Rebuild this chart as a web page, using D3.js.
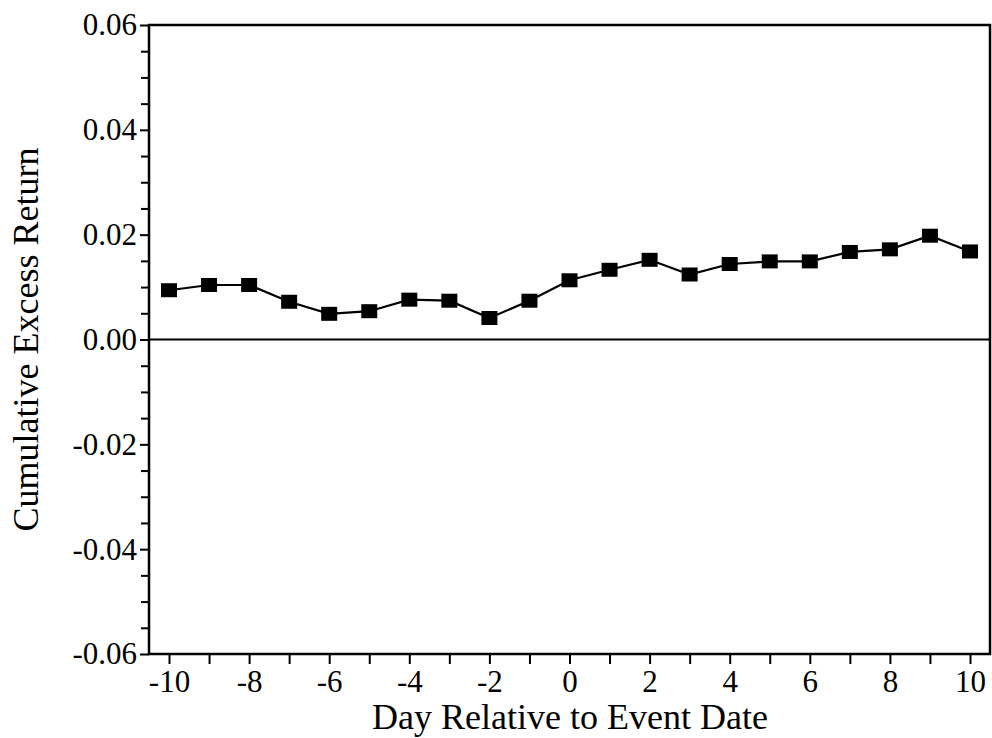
<!DOCTYPE html>
<html>
<head>
<meta charset="utf-8">
<script src="https://cdn.jsdelivr.net/npm/d3@7/dist/d3.min.js"></script>
<style>
  html, body { margin: 0; padding: 0; background: #fff; }
  svg { display: block; }
  text { font-family: "Liberation Serif", "Times New Roman", serif; fill: #000; }
</style>
</head>
<body>
<svg id="chart" width="992" height="738"></svg>
<script>
// ---- data ----
const days = [-10, -9, -8, -7, -6, -5, -4, -3, -2, -1, 0, 1, 2, 3, 4, 5, 6, 7, 8, 9, 10];
const cumExcessReturn = [0.0094, 0.0104, 0.0104, 0.0072, 0.0049, 0.0054, 0.0076, 0.0074, 0.0041, 0.0074,
                         0.0113, 0.0133, 0.0152, 0.0124, 0.0144, 0.0149, 0.0149, 0.0167, 0.0172, 0.0198, 0.0168];
const yMajorTicks = [-0.06, -0.04, -0.02, 0.00, 0.02, 0.04, 0.06];
const yMinorTicks = [-0.055, -0.05, -0.045, -0.035, -0.03, -0.025, -0.015, -0.01, -0.005,
                     0.005, 0.01, 0.015, 0.025, 0.03, 0.035, 0.045, 0.05, 0.055];
const xMajorTicks = [-10, -8, -6, -4, -2, 0, 2, 4, 6, 8, 10];
const xMinorTicks = [-9, -7, -5, -3, -1, 1, 3, 5, 7, 9];
const xTitle = "Day Relative to Event Date";
const yTitle = "Cumulative Excess Return";

// ---- layout ----
const plotL = 149, plotR = 990, plotT = 25, plotB = 654;
const svg = d3.select("#chart");

const x = d3.scaleLinear().domain([-10, 10]).range([169, 970]);
const y = d3.scaleLinear().domain([-0.06, 0.06]).range([plotB, plotT]);

const fmtY = v => d3.format(".2f")(v).replace("\u2212", "-");
const fmtX = v => String(v);

// frame
svg.append("rect")
  .attr("x", plotL).attr("y", plotT)
  .attr("width", plotR - plotL).attr("height", plotB - plotT)
  .attr("fill", "none").attr("stroke", "#000").attr("stroke-width", 2.5);

// zero line
svg.append("line")
  .attr("x1", plotL).attr("x2", plotR)
  .attr("y1", y(0)).attr("y2", y(0))
  .attr("stroke", "#000").attr("stroke-width", 2.2);

// y axis major
const gyMaj = svg.append("g").attr("transform", `translate(${plotL},0)`)
  .call(d3.axisLeft(y).tickValues(yMajorTicks).tickFormat(fmtY).tickSize(9).tickPadding(3));
// y axis minor
const gyMin = svg.append("g").attr("transform", `translate(${plotL},0)`)
  .call(d3.axisLeft(y).tickValues(yMinorTicks).tickFormat("").tickSize(8));

// x axis major
const gxMaj = svg.append("g").attr("transform", `translate(0,${plotB})`)
  .call(d3.axisBottom(x).tickValues(xMajorTicks).tickFormat(fmtX).tickSize(10).tickPadding(6));
const gxMin = svg.append("g").attr("transform", `translate(0,${plotB})`)
  .call(d3.axisBottom(x).tickValues(xMinorTicks).tickFormat("").tickSize(10));

[gyMaj, gyMin, gxMaj, gxMin].forEach(g => {
  g.select(".domain").remove();
  g.selectAll(".tick line").attr("stroke", "#000").attr("stroke-width", 2);
  g.selectAll(".tick text")
    .attr("font-family", "'Liberation Serif', 'Times New Roman', serif")
    .attr("font-size", 31).attr("fill", "#000");
});

// line
const line = d3.line().x((d, i) => x(days[i])).y(d => y(d));
svg.append("path")
  .datum(cumExcessReturn)
  .attr("d", line)
  .attr("fill", "none").attr("stroke", "#000").attr("stroke-width", 2.2);

// markers
const mw = 16, mh = 14;
svg.append("g").selectAll("rect")
  .data(cumExcessReturn)
  .join("rect")
  .attr("x", (d, i) => x(days[i]) - mw / 2)
  .attr("y", d => y(d) - mh / 2)
  .attr("width", mw).attr("height", mh)
  .attr("fill", "#000");

// titles
svg.append("text")
  .attr("x", 570).attr("y", 729)
  .attr("text-anchor", "middle")
  .attr("font-size", 36)
  .text(xTitle);

svg.append("text")
  .attr("transform", `translate(38,${(plotT + plotB) / 2}) rotate(-90)`)
  .attr("text-anchor", "middle")
  .attr("font-size", 36)
  .text(yTitle);
</script>
</body>
</html>
